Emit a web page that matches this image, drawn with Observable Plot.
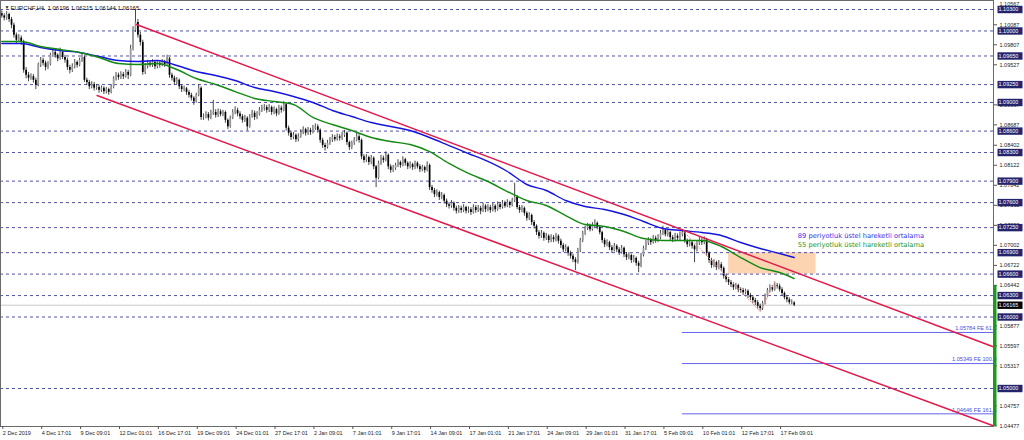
<!DOCTYPE html>
<html><head><meta charset="utf-8">
<script src="https://cdn.jsdelivr.net/npm/d3@7"></script>
<script src="https://cdn.jsdelivr.net/npm/@observablehq/plot@0.6"></script>
<style>
html,body{margin:0;padding:0;background:#fff;}
#chart{width:1024px;height:440px;overflow:hidden;}
</style></head><body><div id="chart"></div>
<script>
// ---- data (prices in pips above 1.0000, i.e. price = 1 + v/10000) ----
const symbolName = "EURCHF,H4";
const lastBar = [1.06196, 1.06215, 1.06144, 1.06165];
const xTickIdx = [0,16,32,48,64,80,96,112,128,144,160,176,192,208,224,240,256,272,288,304,320];
const xLabels = ["2 Dec 2019","4 Dec 17:01","9 Dec 09:01","12 Dec 01:01","16 Dec 17:01","19 Dec 09:01","24 Dec 01:01","27 Dec 17:01","2 Jan 09:01","7 Jan 01:01","9 Jan 17:01","14 Jan 09:01","17 Jan 01:01","21 Jan 17:01","24 Jan 09:01","29 Jan 01:01","31 Jan 17:01","5 Feb 09:01","10 Feb 01:01","12 Feb 17:01","17 Feb 09:01"];

const openPips = [
1024,1021,1018,1023,1016,1008,994,987,990,984,
945,938,934,936,931,924,952,959,955,949,
953,966,970,966,961,970,963,959,949,945,
950,956,952,959,963,931,928,922,925,920,
921,917,920,915,918,914,921,933,938,935,
939,936,942,938,975,1001,1012,994,984,942,
950,955,952,956,950,955,952,956,953,961,
938,934,928,931,922,918,919,914,910,906,
901,910,920,879,880,883,878,885,886,882,
887,883,886,875,866,878,886,889,884,880,
875,878,866,880,885,879,883,889,892,893,
889,893,886,890,884,892,889,897,864,857,
851,854,848,852,858,862,857,861,858,864,
866,861,847,840,837,843,847,851,848,852,
850,854,857,844,837,843,847,852,847,824,
819,823,816,822,810,794,815,822,819,826,
810,805,808,812,816,812,820,815,810,813,
809,815,810,806,809,805,812,781,777,771,
774,767,770,762,757,755,759,752,748,752,
749,753,748,750,746,753,749,752,748,755,
750,753,749,755,750,757,753,759,755,760,
756,763,767,753,749,752,745,738,742,732,
727,718,713,717,710,713,707,711,708,713,
706,700,694,697,689,685,680,676,693,707,
717,724,727,722,728,731,725,718,707,701,
704,697,693,699,694,690,696,687,683,686,
679,682,675,671,686,696,703,707,704,710,
706,711,717,721,715,718,711,708,713,710,
715,718,707,701,704,699,694,703,707,704,
708,689,679,672,676,669,673,668,657,652,
648,645,641,644,638,637,634,636,630,627,
623,620,615,612,619,629,637,641,638,644,
643,638,633,627,624,620,619.6];
const highPips = [
1028,1024,1027,1025,1019,1011,997,995,993,987,
949,942,940,939,934,955,963,962,958,957,
969,974,973,968,976,972,966,962,952,954,
960,958,962,968,965,934,931,929,928,925,
924,923,922,921,920,925,936,942,941,943,
942,946,945,980,1006,1030,1016,998,987,954,
959,958,960,959,958,957,960,959,966,963,
941,937,935,933,925,923,921,917,913,908,
913,925,922,884,887,886,889,903,890,891,
890,889,888,877,881,890,894,892,887,883,
882,880,883,889,888,887,893,896,897,896,
897,895,894,892,896,895,901,899,867,860,
858,856,856,862,866,864,865,864,868,870,
869,863,850,843,847,851,855,854,856,855,
858,861,859,846,846,851,857,855,849,827,
827,825,826,824,812,818,826,825,831,828,
813,812,815,820,818,824,822,817,817,815,
818,817,813,812,811,817,814,784,780,778,
776,774,772,765,760,763,761,755,756,755,
757,755,754,753,757,756,756,755,759,757,
757,756,759,757,761,760,763,762,764,762,
766,787,770,756,756,754,747,746,744,735,
729,721,721,719,717,715,715,714,717,715,
709,703,701,699,692,688,683,696,710,720,
727,731,730,732,736,733,728,720,710,708,
706,700,703,701,697,700,698,690,690,688,
686,684,678,689,699,707,711,710,714,713,
715,721,727,724,722,720,714,717,716,719,
722,720,709,708,706,701,706,711,710,712,
710,691,682,680,678,679,676,670,660,655,
651,648,647,646,641,640,639,638,633,630,
626,623,618,622,632,640,645,644,649,647,
646,641,635,630,627,624,621.5];
const lowPips = [
1018,1014,1015,1012,1003,990,982,984,980,941,
933,929,931,927,918,922,949,951,944,946,
951,963,962,957,959,960,955,945,940,942,
947,948,950,956,928,924,918,919,916,917,
913,914,911,912,910,912,919,930,931,932,
932,934,932,936,972,998,990,979,938,939,
947,949,949,946,947,948,950,949,951,934,
930,924,925,918,914,915,910,906,902,896,
899,908,875,875,877,874,876,882,878,879,
880,880,871,862,864,876,883,880,876,871,
872,860,864,878,875,876,881,886,888,885,
886,882,883,880,882,885,887,860,853,847,
848,844,845,850,855,853,854,854,856,861,
857,843,836,832,835,840,844,845,846,846,
847,851,840,833,834,840,845,843,820,815,
816,812,813,806,781,792,812,815,817,806,
801,802,805,809,808,810,811,806,807,805,
806,807,802,803,801,803,777,773,767,768,
763,764,758,753,751,752,748,744,745,745,
746,744,745,742,744,745,746,743,746,746,
747,745,747,746,748,750,751,752,753,752,
754,760,750,745,746,741,734,735,728,723,
714,709,710,706,707,703,704,704,705,702,
696,690,691,685,681,676,665,674,690,704,
714,721,719,720,725,722,715,703,697,698,
693,689,691,690,686,688,683,679,680,675,
676,671,662,669,684,693,700,700,702,703,
704,708,714,712,712,707,704,705,706,707,
712,703,697,698,695,676,691,700,700,701,
685,675,668,669,665,666,664,653,648,644,
641,637,638,634,633,630,631,626,623,619,
616,611,608,609,617,627,634,635,636,639,
635,629,624,620,617,617,614.4];
const closePips = [
1021,1018,1023,1016,1008,994,987,990,984,945,
938,934,936,931,924,952,959,955,949,953,
966,970,966,961,970,963,959,949,945,950,
956,952,959,963,931,928,922,925,920,921,
917,920,915,918,914,921,933,938,935,939,
936,942,938,975,1001,1012,994,984,942,950,
955,952,956,950,955,952,956,953,961,938,
934,928,931,922,918,919,914,910,906,901,
910,920,879,880,883,878,885,886,882,887,
883,886,875,866,878,886,889,884,880,875,
878,866,880,885,879,883,889,892,893,889,
893,886,890,884,892,889,897,864,857,851,
854,848,852,858,862,857,861,858,864,866,
861,847,840,837,843,847,851,848,852,850,
854,857,844,837,843,847,852,847,824,819,
823,816,822,810,794,815,822,819,826,810,
805,808,812,816,812,820,815,810,813,809,
815,810,806,809,805,812,781,777,771,774,
767,770,762,757,755,759,752,748,752,749,
753,748,750,746,753,749,752,748,755,750,
753,749,755,750,757,753,759,755,760,756,
763,767,753,749,752,745,738,742,732,727,
718,713,717,710,713,707,711,708,713,706,
700,694,697,689,685,680,676,693,707,717,
724,727,722,728,731,725,718,707,701,704,
697,693,699,694,690,696,687,683,686,679,
682,675,671,686,696,703,707,704,710,706,
711,717,721,715,718,711,708,713,710,715,
718,707,701,704,699,694,703,707,704,708,
689,679,672,676,669,673,668,657,652,648,
645,641,644,638,637,634,636,630,627,623,
620,615,612,619,629,637,641,638,644,643,
638,633,627,624,620,621,616.5];

const maIdx = [0,8,16,24,32,40,48,56,64,72,80,88,96,104,112,120,128,136,144,152,160,168,176,184,192,200,208,216,224,232,240,248,256,264,272,280,288,296,304,312,320,326];
const ema89 = [1.09825,1.09825,1.09769,1.09727,1.09699,1.09643,1.09587,1.09573,1.09587,1.09517,1.09433,1.09377,1.09307,1.09209,1.09153,1.09084,1.09000,1.08888,1.08804,1.08720,1.08664,1.08608,1.08510,1.08398,1.08286,1.08175,1.08035,1.07853,1.07769,1.07629,1.07545,1.07503,1.07433,1.07336,1.07238,1.07210,1.07182,1.07140,1.07042,1.06958,1.06888,1.06832];
const ema55 = [1.09853,1.09853,1.09783,1.09741,1.09699,1.09629,1.09545,1.09531,1.09545,1.09461,1.09335,1.09251,1.09153,1.09056,1.09014,1.08972,1.08790,1.08692,1.08608,1.08510,1.08454,1.08412,1.08314,1.08147,1.08007,1.07895,1.07755,1.07629,1.07559,1.07419,1.07294,1.07266,1.07196,1.07098,1.07070,1.07070,1.07070,1.06986,1.06832,1.06692,1.06622,1.06538];

const levels = [1.10300,1.10000,1.09650,1.09250,1.09000,1.08600,1.08300,1.07900,1.07600,1.07250,1.06900,1.06600,1.06300,1.06000,1.05000];
const yTicks = [1.10087,1.09807,1.09527,1.08967,1.08687,1.08402,1.08122,1.07842,1.07562,1.07282,1.07002,1.06722,1.06442,1.05877,1.05597,1.05317,1.04757,1.04477];
const topPriceLabel = [1.10567];
const currentPrice = [1.06165];
const feLevels = [1.05784, 1.05349, 1.04646];
const feNames = ["FE 61.8", "FE 100.0", "FE 161.8"];
const feBase = [{i:280, p:1.07215}, {i:312, p:1.06077}, {i:318, p:1.06487}];
const zone = [{i1:299, i2:335, p1:1.06600, p2:1.06900}];
const channelUpper = [{i:55.4, p:1.10090}, {i:407.6, p:1.05588}];
const channelLower = [{i:39.2, p:1.09098}, {i:407.6, p:1.04483}];
const legendItems = [
  {text:"89 periyotluk üstel hareketli ortalama", i:327.5, p:1.07140, color:"#3434e8"},
  {text:"55 periyotluk üstel hareketli ortalama", i:327.5, p:1.07014, color:"#249624"}
];
const greenBarTop = 1.06442;
const xDomain = [-0.535, 408];
const yDomain = [1.04469, 1.10426];

// ---- derived tables ----
const px = v => 1 + v / 10000;
const bars = closePips.map((c, i) => ({i, o: px(openPips[i]), h: px(highPips[i]), l: px(lowPips[i]), c: px(c)}));
const ma89Rows = maIdx.map((i, k) => ({i, p: ema89[k]}));
const ma55Rows = maIdx.map((i, k) => ({i, p: ema55[k]}));
const feRows = feLevels.map((p, k) => ({p, label: `${p.toFixed(5)} ${feNames[k]}`}));
const xEnd = xDomain[1];

const navy = "#24246c";
const boxSymbol = {draw(ctx){ ctx.moveTo(-12.5,-3.7); ctx.lineTo(12.5,-3.7); ctx.lineTo(12.5,3.7); ctx.lineTo(-12.5,3.7); ctx.closePath(); }};
const fmt5 = d => d.toFixed(5);

const chart = Plot.plot({
  width: 1024, height: 440,
  marginLeft: 0, marginRight: 31, marginTop: 0, marginBottom: 14,
  style: {fontFamily: "'Liberation Sans', Arial, sans-serif", background: "#fff", color: "#222"},
  x: {type: "linear", domain: xDomain},
  y: {type: "linear", domain: yDomain},
  marks: [
    Plot.rect(zone, {x1: "i1", x2: "i2", y1: "p1", y2: "p2", fill: "#fcd4b2"}),
    Plot.ruleY(levels, {y: d => d, stroke: "#5252aa", strokeDasharray: "3,3", strokeWidth: 1}),
    Plot.ruleY(currentPrice, {y: d => d, stroke: "#c8c8c8"}),
    Plot.ruleY(feLevels, {y: d => d, x1: feBase[0].i, x2: xEnd, stroke: "#6464ec"}),
    Plot.text(feRows, {y: "p", x: xEnd, text: "label", textAnchor: "end", dx: 3, dy: -4, fill: "#4c4cd8", fontSize: 5.6}),
    Plot.ruleX(bars, {x: "i", y1: "l", y2: "h", stroke: "#333", strokeWidth: 0.9}),
    Plot.ruleX(bars, {x: "i", y1: "o", y2: "c", stroke: d => d.c >= d.o ? "#999" : "#000", strokeWidth: 1.7}),
    Plot.line(feBase, {x: "i", y: "p", stroke: "#f08c8c", strokeDasharray: "1.5,2", strokeWidth: 1}),
    Plot.line(ma89Rows, {x: "i", y: "p", stroke: "#1414e0", strokeWidth: 1.4, curve: "monotone-x"}),
    Plot.line(ma55Rows, {x: "i", y: "p", stroke: "#138a13", strokeWidth: 1.4, curve: "monotone-x"}),
    Plot.line(channelUpper, {x: "i", y: "p", stroke: "#e3194b", strokeWidth: 1.5}),
    Plot.line(channelLower, {x: "i", y: "p", stroke: "#e3194b", strokeWidth: 1.5}),
    Plot.text(legendItems, {x: "i", y: "p", text: "text", fill: "color", textAnchor: "start", fontSize: 6.7, fontFamily: "'DejaVu Sans', sans-serif"}),
    Plot.text(["\u25BC"], {frameAnchor: "top-left", dx: 4, dy: 5, fontSize: 5, fill: "#222"}),
    Plot.text([`${symbolName}  ${lastBar.map(fmt5).join(" ")}`], {frameAnchor: "top-left", textAnchor: "start", dx: 10, dy: 5, fontSize: 6, fill: "#111"}),
    Plot.frame({stroke: "#6a6a6a"}),
    Plot.axisX({ticks: xTickIdx, tickFormat: d => xLabels[xTickIdx.indexOf(d)], tickSize: 3, tickPadding: 2, textAnchor: "start", dx: 1, fontSize: 5.5, stroke: "#555", fill: "#222", label: null}),
    Plot.axisY({anchor: "right", ticks: yTicks, tickFormat: fmt5, tickSize: 3, tickPadding: 3, fontSize: 5.5, stroke: "#555", fill: "#222", label: null}),
    Plot.text(topPriceLabel, {frameAnchor: "top-right", text: fmt5, textAnchor: "start", dx: 6, dy: 2, fontSize: 5.5, fill: "#222"}),
    Plot.ruleX([xEnd], {y1: greenBarTop, y2: yDomain[0], stroke: "#1a9a1a", strokeWidth: 3, dx: 1.5}),
    Plot.dot(levels, {y: d => d, frameAnchor: "right", symbol: boxSymbol, r: 5, fill: navy, stroke: null, dx: 16.5}),
    Plot.text(levels, {y: d => d, frameAnchor: "right", text: fmt5, textAnchor: "start", dx: 5, fill: "#fff", fontSize: 5.5}),
    Plot.dot(currentPrice, {y: d => d, frameAnchor: "right", symbol: boxSymbol, r: 5, fill: "#000", stroke: null, dx: 16.5}),
    Plot.text(currentPrice, {y: d => d, frameAnchor: "right", text: fmt5, textAnchor: "start", dx: 5, fill: "#fff", fontSize: 5.5})
  ]
});
document.getElementById("chart").appendChild(chart);
</script></body></html>
